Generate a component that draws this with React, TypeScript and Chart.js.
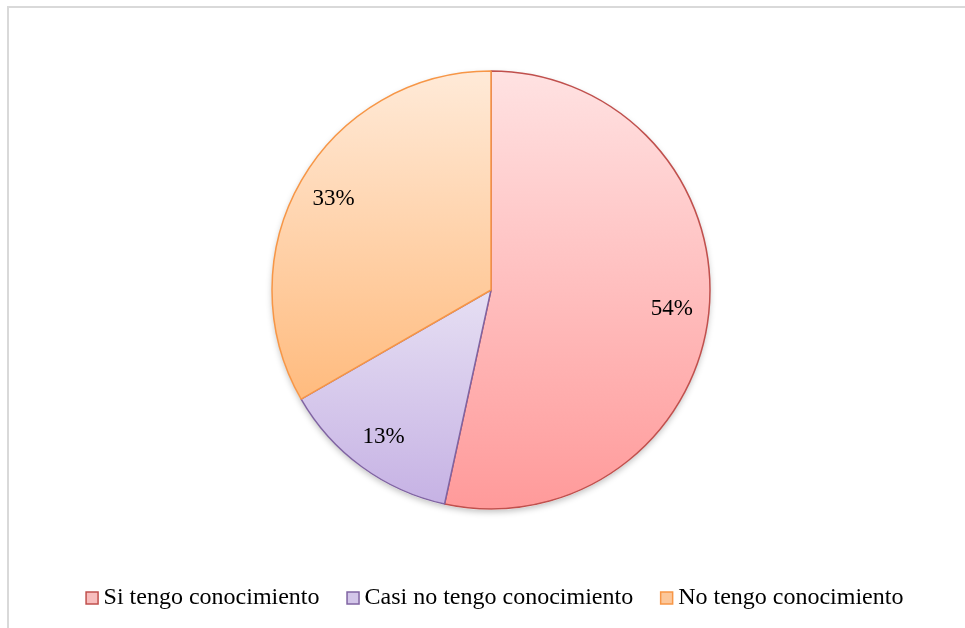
import React, { useEffect, useRef } from "react";
import { Chart, registerables } from "chart.js";

Chart.register(...registerables);

const categories = ["Si tengo conocimiento", "Casi no tengo conocimiento", "No tengo conocimiento"];
const values = [53.4, 13.3, 33.3];
const percentLabels = ["54%", "13%", "33%"];
const gradientTop = ["#FFE2E2", "#E6DFF3", "#FFEAD8"];
const gradientBottom = ["#FF9A9A", "#C6B2E4", "#FFBB7E"];
const borderColors = ["#C0504D", "#8064A2", "#F79646"];
const legendFill = ["#F8BDBD", "#D3C6E9", "#FCC79A"];

const SERIF = "'Liberation Serif', 'Times New Roman', serif";

function arcBBox(a: any) {
  const xs: number[] = [a.x];
  const ys: number[] = [a.y];
  const r = a.outerRadius;
  const push = (ang: number) => {
    xs.push(a.x + Math.cos(ang) * r);
    ys.push(a.y + Math.sin(ang) * r);
  };
  push(a.startAngle);
  push(a.endAngle);
  for (let k = -4; k <= 8; k++) {
    const ang = (k * Math.PI) / 2;
    if (ang > a.startAngle && ang < a.endAngle) push(ang);
  }
  return { top: Math.min(...ys), bottom: Math.max(...ys) };
}

const gradientPlugin = {
  id: "sliceGradient",
  beforeDatasetsDraw(chart: any) {
    const meta = chart.getDatasetMeta(0);
    const ctx = chart.ctx;
    meta.data.forEach((arc: any, i: number) => {
      const bb = arcBBox(arc);
      const g = ctx.createLinearGradient(0, bb.top, 0, bb.bottom);
      g.addColorStop(0, gradientTop[i]);
      g.addColorStop(1, gradientBottom[i]);
      arc.options.backgroundColor = g;
    });
    const a0 = meta.data[0];
    if (a0) {
      ctx.save();
      ctx.beginPath();
      ctx.arc(a0.x, a0.y + 1, a0.outerRadius, 0, Math.PI * 2);
      ctx.shadowColor = "rgba(0,0,0,0.25)";
      ctx.shadowBlur = 6;
      ctx.shadowOffsetY = 2;
      ctx.fillStyle = "#ffffff";
      ctx.fill();
      ctx.restore();
    }
  },
};

const labelPlugin = {
  id: "sliceLabels",
  afterDatasetsDraw(chart: any) {
    const meta = chart.getDatasetMeta(0);
    const ctx = chart.ctx;
    ctx.save();
    ctx.font = `23px ${SERIF}`;
    ctx.fillStyle = "#000000";
    ctx.textAlign = "center";
    ctx.textBaseline = "middle";
    meta.data.forEach((arc: any, i: number) => {
      const mid = (arc.startAngle + arc.endAngle) / 2;
      const d = arc.outerRadius * 0.83;
      ctx.fillText(percentLabels[i], arc.x + Math.cos(mid) * d, arc.y + Math.sin(mid) * d);
    });
    ctx.restore();
  },
};

// draws the legend swatches a little closer to their text (Excel style)
const legendBoxPlugin = {
  id: "legendBoxes",
  afterDraw(chart: any) {
    const lg = chart.legend;
    if (!lg || !lg.legendHitBoxes) return;
    const ctx = chart.ctx;
    ctx.save();
    lg.legendHitBoxes.forEach((hb: any, i: number) => {
      const x = hb.left + 7.5;
      const y = hb.top + (hb.height - 13) / 2 + 0.5;
      ctx.fillStyle = legendFill[i];
      ctx.fillRect(x, y, 12, 12);
      ctx.strokeStyle = borderColors[i];
      ctx.lineWidth = 1.5;
      ctx.strokeRect(x, y, 12, 12);
    });
    ctx.restore();
  },
};

export default function App() {
  const ref = useRef<HTMLCanvasElement | null>(null);
  useEffect(() => {
    if (!ref.current) return;
    const chart = new Chart(ref.current, {
      type: "pie",
      data: {
        labels: categories,
        datasets: [
          {
            data: values,
            backgroundColor: gradientBottom,
            borderColor: borderColors,
            borderWidth: 1.5,
            radius: 219,
          } as any,
        ],
      },
      options: {
        animation: false,
        responsive: false,
        maintainAspectRatio: false,
        layout: { padding: { top: 6, bottom: 8, left: 8, right: 0 } },
        plugins: {
          tooltip: { enabled: false },
          legend: {
            position: "bottom",
            labels: {
              boxWidth: 13,
              boxHeight: 13,
              padding: 20,
              color: "#000000",
              font: { family: SERIF, size: 24 },
              generateLabels: () =>
                categories.map((c, i) => ({
                  text: c,
                  fillStyle: "rgba(0,0,0,0)",
                  strokeStyle: "rgba(0,0,0,0)",
                  lineWidth: 0,
                  hidden: false,
                  index: i,
                  datasetIndex: 0,
                })),
            },
          },
        },
      },
      plugins: [gradientPlugin, labelPlugin, legendBoxPlugin],
    });
    return () => chart.destroy();
  }, []);

  return (
    <div
      style={{
        position: "absolute",
        left: 7,
        top: 6,
        width: 958,
        height: 622,
        borderTop: "2px solid #D9D9D9",
        borderLeft: "2px solid #D9D9D9",
        boxSizing: "border-box",
        background: "#ffffff",
      }}
    >
      <canvas ref={ref} width={956} height={620} style={{ display: "block", width: 956, height: 620 }} />
    </div>
  );
}
